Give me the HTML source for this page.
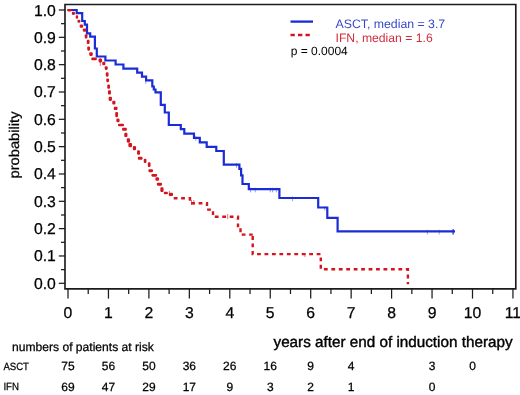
<!DOCTYPE html>
<html><head><meta charset="utf-8"><style>
html,body{margin:0;padding:0;background:#fff;}
body{width:520px;height:395px;overflow:hidden;}
svg{display:block;font-family:"Liberation Sans", sans-serif;text-rendering:geometricPrecision;filter:blur(0.3px);}
text{stroke:#000;stroke-width:0;}
text.b{stroke-width:0.25px;}
text.y{stroke-width:0.4px;}
text.m{stroke-width:0.25px;}
</style></head><body>
<svg width="520" height="395" viewBox="0 0 520 395" font-family='"Liberation Sans", sans-serif'>
<path d="M65 4.5 H515.8 V288.8 H65 Z" fill="none" stroke="#1c1c1c" stroke-width="1.65"/>
<line x1="58.8" x2="65" y1="283.30" y2="283.30" stroke="#1c1c1c" stroke-width="1.25"/>
<text class="b" x="55.9" y="288.80" text-anchor="end" font-size="15.75">0.0</text>
<line x1="61" x2="65" y1="269.63" y2="269.63" stroke="#1c1c1c" stroke-width="1.25"/>
<line x1="58.8" x2="65" y1="255.97" y2="255.97" stroke="#1c1c1c" stroke-width="1.25"/>
<text class="b" x="55.9" y="261.47" text-anchor="end" font-size="15.75">0.1</text>
<line x1="61" x2="65" y1="242.31" y2="242.31" stroke="#1c1c1c" stroke-width="1.25"/>
<line x1="58.8" x2="65" y1="228.64" y2="228.64" stroke="#1c1c1c" stroke-width="1.25"/>
<text class="b" x="55.9" y="234.14" text-anchor="end" font-size="15.75">0.2</text>
<line x1="61" x2="65" y1="214.98" y2="214.98" stroke="#1c1c1c" stroke-width="1.25"/>
<line x1="58.8" x2="65" y1="201.31" y2="201.31" stroke="#1c1c1c" stroke-width="1.25"/>
<text class="b" x="55.9" y="206.81" text-anchor="end" font-size="15.75">0.3</text>
<line x1="61" x2="65" y1="187.64" y2="187.64" stroke="#1c1c1c" stroke-width="1.25"/>
<line x1="58.8" x2="65" y1="173.98" y2="173.98" stroke="#1c1c1c" stroke-width="1.25"/>
<text class="b" x="55.9" y="179.48" text-anchor="end" font-size="15.75">0.4</text>
<line x1="61" x2="65" y1="160.31" y2="160.31" stroke="#1c1c1c" stroke-width="1.25"/>
<line x1="58.8" x2="65" y1="146.65" y2="146.65" stroke="#1c1c1c" stroke-width="1.25"/>
<text class="b" x="55.9" y="152.15" text-anchor="end" font-size="15.75">0.5</text>
<line x1="61" x2="65" y1="132.98" y2="132.98" stroke="#1c1c1c" stroke-width="1.25"/>
<line x1="58.8" x2="65" y1="119.32" y2="119.32" stroke="#1c1c1c" stroke-width="1.25"/>
<text class="b" x="55.9" y="124.82" text-anchor="end" font-size="15.75">0.6</text>
<line x1="61" x2="65" y1="105.66" y2="105.66" stroke="#1c1c1c" stroke-width="1.25"/>
<line x1="58.8" x2="65" y1="91.99" y2="91.99" stroke="#1c1c1c" stroke-width="1.25"/>
<text class="b" x="55.9" y="97.49" text-anchor="end" font-size="15.75">0.7</text>
<line x1="61" x2="65" y1="78.32" y2="78.32" stroke="#1c1c1c" stroke-width="1.25"/>
<line x1="58.8" x2="65" y1="64.66" y2="64.66" stroke="#1c1c1c" stroke-width="1.25"/>
<text class="b" x="55.9" y="70.16" text-anchor="end" font-size="15.75">0.8</text>
<line x1="61" x2="65" y1="50.99" y2="50.99" stroke="#1c1c1c" stroke-width="1.25"/>
<line x1="58.8" x2="65" y1="37.33" y2="37.33" stroke="#1c1c1c" stroke-width="1.25"/>
<text class="b" x="55.9" y="42.83" text-anchor="end" font-size="15.75">0.9</text>
<line x1="61" x2="65" y1="23.66" y2="23.66" stroke="#1c1c1c" stroke-width="1.25"/>
<line x1="58.8" x2="65" y1="10.00" y2="10.00" stroke="#1c1c1c" stroke-width="1.25"/>
<text class="b" x="55.9" y="15.50" text-anchor="end" font-size="15.75">1.0</text>
<line x1="68.00" x2="68.00" y1="288.8" y2="298.6" stroke="#1c1c1c" stroke-width="1.25"/>
<text class="b" x="68.00" y="318.4" text-anchor="middle" font-size="15.75">0</text>
<line x1="88.22" x2="88.22" y1="288.8" y2="294" stroke="#1c1c1c" stroke-width="1.25"/>
<line x1="108.45" x2="108.45" y1="288.8" y2="298.6" stroke="#1c1c1c" stroke-width="1.25"/>
<text class="b" x="108.45" y="318.4" text-anchor="middle" font-size="15.75">1</text>
<line x1="128.68" x2="128.68" y1="288.8" y2="294" stroke="#1c1c1c" stroke-width="1.25"/>
<line x1="148.90" x2="148.90" y1="288.8" y2="298.6" stroke="#1c1c1c" stroke-width="1.25"/>
<text class="b" x="148.90" y="318.4" text-anchor="middle" font-size="15.75">2</text>
<line x1="169.12" x2="169.12" y1="288.8" y2="294" stroke="#1c1c1c" stroke-width="1.25"/>
<line x1="189.35" x2="189.35" y1="288.8" y2="298.6" stroke="#1c1c1c" stroke-width="1.25"/>
<text class="b" x="189.35" y="318.4" text-anchor="middle" font-size="15.75">3</text>
<line x1="209.58" x2="209.58" y1="288.8" y2="294" stroke="#1c1c1c" stroke-width="1.25"/>
<line x1="229.80" x2="229.80" y1="288.8" y2="298.6" stroke="#1c1c1c" stroke-width="1.25"/>
<text class="b" x="229.80" y="318.4" text-anchor="middle" font-size="15.75">4</text>
<line x1="250.03" x2="250.03" y1="288.8" y2="294" stroke="#1c1c1c" stroke-width="1.25"/>
<line x1="270.25" x2="270.25" y1="288.8" y2="298.6" stroke="#1c1c1c" stroke-width="1.25"/>
<text class="b" x="270.25" y="318.4" text-anchor="middle" font-size="15.75">5</text>
<line x1="290.48" x2="290.48" y1="288.8" y2="294" stroke="#1c1c1c" stroke-width="1.25"/>
<line x1="310.70" x2="310.70" y1="288.8" y2="298.6" stroke="#1c1c1c" stroke-width="1.25"/>
<text class="b" x="310.70" y="318.4" text-anchor="middle" font-size="15.75">6</text>
<line x1="330.93" x2="330.93" y1="288.8" y2="294" stroke="#1c1c1c" stroke-width="1.25"/>
<line x1="351.15" x2="351.15" y1="288.8" y2="298.6" stroke="#1c1c1c" stroke-width="1.25"/>
<text class="b" x="351.15" y="318.4" text-anchor="middle" font-size="15.75">7</text>
<line x1="371.38" x2="371.38" y1="288.8" y2="294" stroke="#1c1c1c" stroke-width="1.25"/>
<line x1="391.60" x2="391.60" y1="288.8" y2="298.6" stroke="#1c1c1c" stroke-width="1.25"/>
<text class="b" x="391.60" y="318.4" text-anchor="middle" font-size="15.75">8</text>
<line x1="411.83" x2="411.83" y1="288.8" y2="294" stroke="#1c1c1c" stroke-width="1.25"/>
<line x1="432.05" x2="432.05" y1="288.8" y2="298.6" stroke="#1c1c1c" stroke-width="1.25"/>
<text class="b" x="432.05" y="318.4" text-anchor="middle" font-size="15.75">9</text>
<line x1="452.28" x2="452.28" y1="288.8" y2="294" stroke="#1c1c1c" stroke-width="1.25"/>
<line x1="472.50" x2="472.50" y1="288.8" y2="298.6" stroke="#1c1c1c" stroke-width="1.25"/>
<text class="b" x="472.50" y="318.4" text-anchor="middle" font-size="15.75">10</text>
<line x1="492.73" x2="492.73" y1="288.8" y2="294" stroke="#1c1c1c" stroke-width="1.25"/>
<line x1="512.95" x2="512.95" y1="288.8" y2="298.6" stroke="#1c1c1c" stroke-width="1.25"/>
<text class="b" x="512.95" y="318.4" text-anchor="middle" font-size="15.75">11</text>
<text class="b" transform="translate(18.8,145) rotate(-90)" x="-33.5" font-size="14" textLength="67" lengthAdjust="spacingAndGlyphs">probability</text>
<path d="M67.7 10 H76.7 V13.1 H82.2 V21 H84.8 V24.6 H87 V33.3 H90.2 V36.7 H94.9 V48.5 H96.8 V56.5 H105.4 V60.5 H115.6 V64.5 H123.4 V68.6 H137.2 V72.6 H142 V76.7 H146.1 V80.4 H152.3 V86.5 H153.8 V89.5 H155.5 V92.4 H160.8 V104.8 H164.8 V112.5 H168.8 V125 H180.8 V129.1 H184.3 V133.6 H194 V137.8 H199.8 V142.3 H206.7 V146.9 H216.3 V151 H223.8 V164.6 H239.4 V168.8 H241.1 V175.4 H242.5 V184 H248.8 V189.2 H279.4 V198 H318.2 V207.5 H327.3 V217.8 H337.6 V231.3 H455" fill="none" stroke="#1a2cd6" stroke-width="2.2" stroke-linejoin="miter"/>
<line x1="145.8" x2="145.8" y1="79.1" y2="83.8" stroke="#1a2cd6" stroke-width="1" stroke-opacity="0.45"/>
<line x1="195.8" x2="195.8" y1="136.3" y2="141.0" stroke="#1a2cd6" stroke-width="1" stroke-opacity="0.45"/>
<line x1="236.5" x2="236.5" y1="163.1" y2="167.79999999999998" stroke="#1a2cd6" stroke-width="1" stroke-opacity="0.45"/>
<line x1="250.6" x2="250.6" y1="187.7" y2="192.39999999999998" stroke="#1a2cd6" stroke-width="1" stroke-opacity="0.45"/>
<line x1="255.2" x2="255.2" y1="187.7" y2="192.39999999999998" stroke="#1a2cd6" stroke-width="1" stroke-opacity="0.45"/>
<line x1="270.3" x2="270.3" y1="187.7" y2="192.39999999999998" stroke="#1a2cd6" stroke-width="1" stroke-opacity="0.45"/>
<line x1="272.6" x2="272.6" y1="187.7" y2="192.39999999999998" stroke="#1a2cd6" stroke-width="1" stroke-opacity="0.45"/>
<line x1="276.3" x2="276.3" y1="187.7" y2="192.39999999999998" stroke="#1a2cd6" stroke-width="1" stroke-opacity="0.45"/>
<line x1="292.5" x2="292.5" y1="196.5" y2="201.2" stroke="#1a2cd6" stroke-width="1" stroke-opacity="0.45"/>
<line x1="324.8" x2="324.8" y1="206.0" y2="210.7" stroke="#1a2cd6" stroke-width="1" stroke-opacity="0.45"/>
<line x1="427.4" x2="427.4" y1="229.8" y2="234.5" stroke="#1a2cd6" stroke-width="1" stroke-opacity="0.45"/>
<line x1="439.2" x2="439.2" y1="229.8" y2="234.5" stroke="#1a2cd6" stroke-width="1" stroke-opacity="0.45"/>
<line x1="453" x2="453" y1="229.8" y2="234.5" stroke="#1a2cd6" stroke-width="1" stroke-opacity="0.45"/>
<line x1="453.2" x2="453.2" y1="229" y2="234.5" stroke="#1a2cd6" stroke-width="1.4" stroke-opacity="0.75"/>
<rect x="67.15" y="8.95" width="4.60" height="2.50" rx="1.1" fill="#d4141e"/>
<rect x="71.85" y="11.85" width="3.10" height="3.10" rx="1.1" fill="#d4141e"/>
<rect x="75.75" y="15.35" width="2.40" height="3.50" rx="1.1" fill="#d4141e"/>
<rect x="77.45" y="19.65" width="2.90" height="3.10" rx="1.1" fill="#d4141e"/>
<rect x="79.65" y="24.55" width="3.50" height="3.20" rx="1.1" fill="#d4141e"/>
<rect x="82.75" y="28.45" width="3.60" height="3.20" rx="1.1" fill="#d4141e"/>
<rect x="84.75" y="34.25" width="2.70" height="4.30" rx="1.1" fill="#d4141e"/>
<rect x="86.75" y="39.85" width="2.80" height="4.20" rx="1.1" fill="#d4141e"/>
<rect x="87.25" y="46.45" width="2.80" height="4.20" rx="1.1" fill="#d4141e"/>
<rect x="89.25" y="52.25" width="3.50" height="3.70" rx="1.1" fill="#d4141e"/>
<rect x="91.25" y="57.55" width="5.60" height="2.70" rx="1.1" fill="#d4141e"/>
<rect x="98.55" y="58.55" width="3.50" height="3.90" rx="1.1" fill="#d4141e"/>
<rect x="102.25" y="61.75" width="3.10" height="3.60" rx="1.1" fill="#d4141e"/>
<rect x="104.75" y="66.25" width="2.90" height="3.70" rx="1.1" fill="#d4141e"/>
<rect x="105.75" y="72.35" width="2.80" height="4.30" rx="1.1" fill="#d4141e"/>
<rect x="106.25" y="78.45" width="2.80" height="3.70" rx="1.1" fill="#d4141e"/>
<rect x="107.25" y="84.55" width="2.80" height="4.20" rx="1.1" fill="#d4141e"/>
<rect x="107.95" y="90.25" width="3.00" height="4.30" rx="1.1" fill="#d4141e"/>
<rect x="108.65" y="96.65" width="3.30" height="4.30" rx="1.1" fill="#d4141e"/>
<rect x="112.25" y="100.75" width="3.20" height="3.80" rx="1.1" fill="#d4141e"/>
<rect x="113.75" y="106.85" width="3.80" height="3.20" rx="1.1" fill="#d4141e"/>
<rect x="115.25" y="111.95" width="2.80" height="5.20" rx="1.1" fill="#d4141e"/>
<rect x="116.35" y="118.55" width="3.20" height="3.70" rx="1.1" fill="#d4141e"/>
<rect x="117.95" y="123.85" width="6.10" height="2.50" rx="1.1" fill="#d4141e"/>
<rect x="122.05" y="127.65" width="4.80" height="3.20" rx="1.1" fill="#d4141e"/>
<rect x="124.25" y="132.85" width="3.20" height="4.20" rx="1.1" fill="#d4141e"/>
<rect x="126.75" y="138.35" width="3.30" height="4.30" rx="1.1" fill="#d4141e"/>
<rect x="128.35" y="142.95" width="3.70" height="4.20" rx="1.1" fill="#d4141e"/>
<rect x="132.85" y="145.95" width="3.20" height="4.30" rx="1.1" fill="#d4141e"/>
<rect x="137.05" y="150.35" width="3.00" height="4.50" rx="1.1" fill="#d4141e"/>
<rect x="137.85" y="156.65" width="4.70" height="3.20" rx="1.1" fill="#d4141e"/>
<rect x="143.75" y="158.75" width="2.70" height="4.30" rx="1.1" fill="#d4141e"/>
<rect x="147.85" y="162.35" width="2.70" height="4.70" rx="1.1" fill="#d4141e"/>
<rect x="148.35" y="169.35" width="4.70" height="2.80" rx="1.1" fill="#d4141e"/>
<rect x="151.35" y="173.95" width="5.80" height="2.70" rx="1.1" fill="#d4141e"/>
<rect x="155.45" y="177.35" width="3.60" height="3.50" rx="1.1" fill="#d4141e"/>
<rect x="156.85" y="182.65" width="5.20" height="3.00" rx="1.1" fill="#d4141e"/>
<rect x="160.35" y="187.35" width="3.20" height="4.70" rx="1.1" fill="#d4141e"/>
<rect x="163.75" y="191.85" width="4.20" height="2.40" rx="1.1" fill="#d4141e"/>
<rect x="168.85" y="192.85" width="4.20" height="3.20" rx="1.1" fill="#d4141e"/>
<path d="M172.7 198.3 H190 V203.2 H207 V209.6 H213 V216.8 H238 V226 H240.5 V234.6 H252.7" fill="none" stroke="#d4141e" stroke-width="2.4" stroke-dasharray="3.8 3.65" stroke-dashoffset="-1.0"/>
<path d="M252.7 234.6 V254.1 H320.8 V269.2 H407.9 V284.2" fill="none" stroke="#d4141e" stroke-width="2.4" stroke-dasharray="3.8 3.65" stroke-dashoffset="-1.5"/>
<line x1="100.3" x2="100.3" y1="58.5" y2="66" stroke="#d4141e" stroke-width="1" stroke-opacity="0.6"/>
<line x1="169.4" x2="169.4" y1="191" y2="196" stroke="#d4141e" stroke-width="1" stroke-opacity="0.6"/>
<line x1="191.5" x2="191.5" y1="200" y2="205" stroke="#d4141e" stroke-width="1" stroke-opacity="0.6"/>
<line x1="193.8" x2="193.8" y1="200" y2="205" stroke="#d4141e" stroke-width="1" stroke-opacity="0.6"/>
<line x1="227.7" x2="227.7" y1="214" y2="219" stroke="#d4141e" stroke-width="1" stroke-opacity="0.6"/>
<line x1="305" x2="305" y1="253" y2="257" stroke="#d4141e" stroke-width="1" stroke-opacity="0.6"/>
<line x1="290.5" x2="313" y1="21.6" y2="21.6" stroke="#1a2cd6" stroke-width="2.3"/>
<line x1="290.5" x2="311" y1="35" y2="35" stroke="#d4141e" stroke-width="2.4" stroke-dasharray="4.3 3.2"/>
<text x="335.5" y="28.3" font-size="12.3" fill="#3848c8" style="stroke:#3848c8">ASCT, median = 3.7</text>
<text x="335.5" y="41.7" font-size="12.2" fill="#d02c3c" style="stroke:#d02c3c">IFN, median = 1.6</text>
<text x="290.7" y="55" font-size="12" fill="#000">p = 0.0004</text>
<text class="y" x="273.5" y="347.3" font-size="15.25">years after end of induction therapy</text>
<text class="m" x="12" y="350.8" font-size="12.1">numbers of patients at risk</text>
<text class="m" x="3.4" y="369.6" font-size="10.5" textLength="25.6" lengthAdjust="spacingAndGlyphs">ASCT</text>
<text class="m" x="3.4" y="390.1" font-size="10.5" textLength="15.6" lengthAdjust="spacingAndGlyphs">IFN</text>
<text class="m" x="68.00" y="370.4" text-anchor="middle" font-size="12">75</text>
<text class="m" x="108.45" y="370.4" text-anchor="middle" font-size="12">56</text>
<text class="m" x="148.90" y="370.4" text-anchor="middle" font-size="12">50</text>
<text class="m" x="189.35" y="370.4" text-anchor="middle" font-size="12">36</text>
<text class="m" x="229.80" y="370.4" text-anchor="middle" font-size="12">26</text>
<text class="m" x="270.25" y="370.4" text-anchor="middle" font-size="12">16</text>
<text class="m" x="310.70" y="370.4" text-anchor="middle" font-size="12">9</text>
<text class="m" x="351.15" y="370.4" text-anchor="middle" font-size="12">4</text>
<text class="m" x="432.05" y="370.4" text-anchor="middle" font-size="12">3</text>
<text class="m" x="472.50" y="370.4" text-anchor="middle" font-size="12">0</text>
<text class="m" x="68.00" y="390.5" text-anchor="middle" font-size="12">69</text>
<text class="m" x="108.45" y="390.5" text-anchor="middle" font-size="12">47</text>
<text class="m" x="148.90" y="390.5" text-anchor="middle" font-size="12">29</text>
<text class="m" x="189.35" y="390.5" text-anchor="middle" font-size="12">17</text>
<text class="m" x="229.80" y="390.5" text-anchor="middle" font-size="12">9</text>
<text class="m" x="270.25" y="390.5" text-anchor="middle" font-size="12">3</text>
<text class="m" x="310.70" y="390.5" text-anchor="middle" font-size="12">2</text>
<text class="m" x="351.15" y="390.5" text-anchor="middle" font-size="12">1</text>
<text class="m" x="432.05" y="390.5" text-anchor="middle" font-size="12">0</text>
</svg>
</body></html>
